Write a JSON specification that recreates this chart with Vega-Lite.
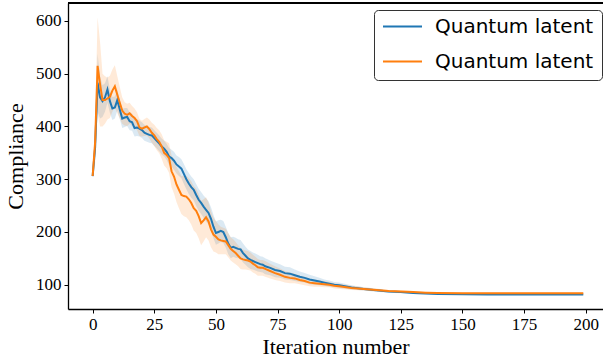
{
  "$schema": "https://vega.github.io/schema/vega-lite/v6.json",
  "autosize": "none",
  "width": 535,
  "height": 306,
  "padding": {"left": 68, "top": 3, "right": 0, "bottom": 53},
  "background": "white",
  "config": {
    "view": {"stroke": null},
    "axis": {"grid": false, "labelFont": "Liberation Serif", "titleFont": "Liberation Serif", "labelFontSize": 17, "titleFontSize": 22, "titleFontWeight": "normal", "labelColor": "black", "titleColor": "black", "domainColor": "black", "tickColor": "black", "domainWidth": 1.3, "tickWidth": 1, "tickSize": 4, "labelPadding": 3},
    "legend": {"labelFont": "DejaVu Sans", "labelFontSize": 20, "labelColor": "black"}
  },
  "datasets": {
    "d": [
      {"s":"A","x":0,"y":306,"lo":304,"hi":308},
      {"s":"A","x":1,"y":360,"lo":340,"hi":380},
      {"s":"A","x":2,"y":483,"lo":428,"hi":538},
      {"s":"A","x":3,"y":455,"lo":415,"hi":495},
      {"s":"A","x":4,"y":448,"lo":418,"hi":478},
      {"s":"A","x":5,"y":455,"lo":428,"hi":482},
      {"s":"A","x":6,"y":470,"lo":445,"hi":495},
      {"s":"A","x":7,"y":448,"lo":426,"hi":470},
      {"s":"A","x":8,"y":434,"lo":412,"hi":456},
      {"s":"A","x":9,"y":436,"lo":415,"hi":457},
      {"s":"A","x":10,"y":450,"lo":430,"hi":470},
      {"s":"A","x":11,"y":432,"lo":414,"hi":450},
      {"s":"A","x":12,"y":415,"lo":397,"hi":433},
      {"s":"A","x":13,"y":417,"lo":399,"hi":435},
      {"s":"A","x":14,"y":418,"lo":401,"hi":435},
      {"s":"A","x":15,"y":410,"lo":393,"hi":427},
      {"s":"A","x":16,"y":408,"lo":392,"hi":424},
      {"s":"A","x":17,"y":397,"lo":381,"hi":413},
      {"s":"A","x":18,"y":398,"lo":382,"hi":414},
      {"s":"A","x":19,"y":396,"lo":381,"hi":411},
      {"s":"A","x":20,"y":393,"lo":378,"hi":408},
      {"s":"A","x":21,"y":388,"lo":373,"hi":403},
      {"s":"A","x":22,"y":386,"lo":371,"hi":401},
      {"s":"A","x":23,"y":384,"lo":369,"hi":399},
      {"s":"A","x":24,"y":383,"lo":368,"hi":398},
      {"s":"A","x":25,"y":378,"lo":363,"hi":393},
      {"s":"A","x":26,"y":373,"lo":358,"hi":388},
      {"s":"A","x":27,"y":368,"lo":353,"hi":383},
      {"s":"A","x":28,"y":362,"lo":347,"hi":377},
      {"s":"A","x":29,"y":358,"lo":343,"hi":373},
      {"s":"A","x":30,"y":352,"lo":337,"hi":367},
      {"s":"A","x":31,"y":343,"lo":327,"hi":359},
      {"s":"A","x":32,"y":340,"lo":324,"hi":356},
      {"s":"A","x":33,"y":335,"lo":318,"hi":352},
      {"s":"A","x":34,"y":328,"lo":311,"hi":345},
      {"s":"A","x":35,"y":324,"lo":306,"hi":342},
      {"s":"A","x":36,"y":320,"lo":302,"hi":338},
      {"s":"A","x":37,"y":310,"lo":291,"hi":329},
      {"s":"A","x":38,"y":300,"lo":281,"hi":319},
      {"s":"A","x":39,"y":292,"lo":272,"hi":312},
      {"s":"A","x":40,"y":285,"lo":265,"hi":305},
      {"s":"A","x":41,"y":280,"lo":260,"hi":300},
      {"s":"A","x":42,"y":270,"lo":249,"hi":291},
      {"s":"A","x":43,"y":261,"lo":240,"hi":282},
      {"s":"A","x":44,"y":255,"lo":234,"hi":276},
      {"s":"A","x":45,"y":248,"lo":227,"hi":269},
      {"s":"A","x":46,"y":242,"lo":220,"hi":264},
      {"s":"A","x":47,"y":236,"lo":214,"hi":258},
      {"s":"A","x":48,"y":225,"lo":203,"hi":247},
      {"s":"A","x":49,"y":210,"lo":188,"hi":232},
      {"s":"A","x":50,"y":198,"lo":176,"hi":220},
      {"s":"A","x":51,"y":200,"lo":178,"hi":222},
      {"s":"A","x":52,"y":202,"lo":181,"hi":223},
      {"s":"A","x":53,"y":200,"lo":179,"hi":221},
      {"s":"A","x":54,"y":190,"lo":170,"hi":210},
      {"s":"A","x":55,"y":178,"lo":158,"hi":198},
      {"s":"A","x":56,"y":170,"lo":150,"hi":190},
      {"s":"A","x":57,"y":172,"lo":153,"hi":191},
      {"s":"A","x":58,"y":170,"lo":151,"hi":189},
      {"s":"A","x":59,"y":168,"lo":150,"hi":186},
      {"s":"A","x":60,"y":167,"lo":149,"hi":185},
      {"s":"A","x":61,"y":160,"lo":142,"hi":178},
      {"s":"A","x":62,"y":155,"lo":138,"hi":172},
      {"s":"A","x":63,"y":150,"lo":133,"hi":167},
      {"s":"A","x":64,"y":147,"lo":130,"hi":164},
      {"s":"A","x":65,"y":145,"lo":129,"hi":161},
      {"s":"A","x":66,"y":143,"lo":127,"hi":159},
      {"s":"A","x":67,"y":141,"lo":125,"hi":157},
      {"s":"A","x":68,"y":139,"lo":124,"hi":154},
      {"s":"A","x":69,"y":138,"lo":123,"hi":153},
      {"s":"A","x":70,"y":135,"lo":120,"hi":150},
      {"s":"A","x":72,"y":132,"lo":118,"hi":146},
      {"s":"A","x":74,"y":128,"lo":114,"hi":142},
      {"s":"A","x":76,"y":126,"lo":113,"hi":139},
      {"s":"A","x":78,"y":122,"lo":110,"hi":134},
      {"s":"A","x":80,"y":121,"lo":109,"hi":133},
      {"s":"A","x":82,"y":118,"lo":107,"hi":129},
      {"s":"A","x":84,"y":115,"lo":105,"hi":125},
      {"s":"A","x":86,"y":113,"lo":104,"hi":122},
      {"s":"A","x":88,"y":110,"lo":101,"hi":119},
      {"s":"A","x":90,"y":108,"lo":100,"hi":116},
      {"s":"A","x":92,"y":106,"lo":99,"hi":113},
      {"s":"A","x":94,"y":104,"lo":98,"hi":110},
      {"s":"A","x":96,"y":102,"lo":96,"hi":108},
      {"s":"A","x":98,"y":100,"lo":95,"hi":105},
      {"s":"A","x":100,"y":99,"lo":94,"hi":104},
      {"s":"A","x":105,"y":95,"lo":91,"hi":99},
      {"s":"A","x":110,"y":92,"lo":89,"hi":95},
      {"s":"A","x":115,"y":89.5,"lo":86.5,"hi":92.5},
      {"s":"A","x":120,"y":87,"lo":85,"hi":89},
      {"s":"A","x":125,"y":86,"lo":84,"hi":88},
      {"s":"A","x":130,"y":84.5,"lo":82.5,"hi":86.5},
      {"s":"A","x":135,"y":83.5,"lo":82,"hi":85},
      {"s":"A","x":140,"y":82.5,"lo":81.5,"hi":83.5},
      {"s":"A","x":150,"y":82,"lo":81,"hi":83},
      {"s":"A","x":160,"y":81.5,"lo":80.5,"hi":82.5},
      {"s":"A","x":170,"y":81.5,"lo":80.5,"hi":82.5},
      {"s":"A","x":180,"y":81.5,"lo":80.5,"hi":82.5},
      {"s":"A","x":190,"y":81.5,"lo":80.5,"hi":82.5},
      {"s":"A","x":199,"y":81.5,"lo":80.5,"hi":82.5},
      {"s":"B","x":0,"y":306,"lo":304,"hi":308},
      {"s":"B","x":1,"y":370,"lo":330,"hi":410},
      {"s":"B","x":2,"y":515,"lo":423,"hi":607},
      {"s":"B","x":3,"y":480,"lo":400,"hi":560},
      {"s":"B","x":4,"y":450,"lo":400,"hi":500},
      {"s":"B","x":5,"y":450,"lo":405,"hi":495},
      {"s":"B","x":6,"y":453,"lo":413,"hi":493},
      {"s":"B","x":7,"y":456,"lo":416,"hi":496},
      {"s":"B","x":8,"y":468,"lo":428,"hi":508},
      {"s":"B","x":9,"y":476,"lo":436,"hi":516},
      {"s":"B","x":10,"y":460,"lo":425,"hi":495},
      {"s":"B","x":11,"y":445,"lo":415,"hi":475},
      {"s":"B","x":12,"y":430,"lo":405,"hi":455},
      {"s":"B","x":13,"y":424,"lo":402,"hi":446},
      {"s":"B","x":14,"y":422,"lo":401,"hi":443},
      {"s":"B","x":15,"y":425,"lo":405,"hi":445},
      {"s":"B","x":16,"y":420,"lo":401,"hi":439},
      {"s":"B","x":17,"y":416,"lo":398,"hi":434},
      {"s":"B","x":18,"y":410,"lo":393,"hi":427},
      {"s":"B","x":19,"y":398,"lo":382,"hi":414},
      {"s":"B","x":20,"y":396,"lo":381,"hi":411},
      {"s":"B","x":21,"y":398,"lo":382,"hi":414},
      {"s":"B","x":22,"y":400,"lo":383,"hi":417},
      {"s":"B","x":23,"y":395,"lo":377,"hi":413},
      {"s":"B","x":24,"y":388,"lo":369,"hi":407},
      {"s":"B","x":25,"y":383,"lo":363,"hi":403},
      {"s":"B","x":26,"y":376,"lo":355,"hi":397},
      {"s":"B","x":27,"y":371,"lo":349,"hi":393},
      {"s":"B","x":28,"y":362,"lo":339,"hi":385},
      {"s":"B","x":29,"y":350,"lo":326,"hi":374},
      {"s":"B","x":30,"y":346,"lo":321,"hi":371},
      {"s":"B","x":31,"y":340,"lo":312,"hi":368},
      {"s":"B","x":32,"y":315,"lo":285,"hi":345},
      {"s":"B","x":33,"y":305,"lo":273,"hi":337},
      {"s":"B","x":34,"y":290,"lo":257,"hi":323},
      {"s":"B","x":35,"y":280,"lo":245,"hi":315},
      {"s":"B","x":36,"y":270,"lo":234,"hi":306},
      {"s":"B","x":37,"y":268,"lo":230,"hi":306},
      {"s":"B","x":38,"y":267,"lo":228,"hi":306},
      {"s":"B","x":39,"y":262,"lo":222,"hi":302},
      {"s":"B","x":40,"y":255,"lo":214,"hi":296},
      {"s":"B","x":41,"y":245,"lo":203,"hi":287},
      {"s":"B","x":42,"y":240,"lo":198,"hi":282},
      {"s":"B","x":43,"y":230,"lo":188,"hi":272},
      {"s":"B","x":44,"y":217,"lo":175,"hi":259},
      {"s":"B","x":45,"y":222,"lo":182,"hi":262},
      {"s":"B","x":46,"y":228,"lo":190,"hi":266},
      {"s":"B","x":47,"y":220,"lo":184,"hi":256},
      {"s":"B","x":48,"y":205,"lo":171,"hi":239},
      {"s":"B","x":49,"y":195,"lo":163,"hi":227},
      {"s":"B","x":50,"y":191,"lo":161,"hi":221},
      {"s":"B","x":51,"y":186,"lo":158,"hi":214},
      {"s":"B","x":52,"y":184,"lo":158,"hi":210},
      {"s":"B","x":53,"y":183,"lo":158,"hi":208},
      {"s":"B","x":54,"y":182,"lo":158,"hi":206},
      {"s":"B","x":55,"y":175,"lo":152,"hi":198},
      {"s":"B","x":56,"y":168,"lo":146,"hi":190},
      {"s":"B","x":57,"y":164,"lo":142,"hi":186},
      {"s":"B","x":58,"y":160,"lo":139,"hi":181},
      {"s":"B","x":59,"y":155,"lo":135,"hi":175},
      {"s":"B","x":60,"y":150,"lo":130,"hi":170},
      {"s":"B","x":61,"y":148,"lo":129,"hi":167},
      {"s":"B","x":62,"y":147,"lo":129,"hi":165},
      {"s":"B","x":63,"y":146,"lo":128,"hi":164},
      {"s":"B","x":64,"y":144,"lo":127,"hi":161},
      {"s":"B","x":65,"y":140,"lo":123,"hi":157},
      {"s":"B","x":66,"y":137,"lo":121,"hi":153},
      {"s":"B","x":67,"y":133,"lo":117,"hi":149},
      {"s":"B","x":68,"y":132,"lo":117,"hi":147},
      {"s":"B","x":69,"y":132,"lo":117,"hi":147},
      {"s":"B","x":70,"y":130,"lo":115,"hi":145},
      {"s":"B","x":72,"y":126,"lo":112,"hi":140},
      {"s":"B","x":74,"y":122,"lo":109,"hi":135},
      {"s":"B","x":76,"y":119,"lo":107,"hi":131},
      {"s":"B","x":78,"y":115,"lo":104,"hi":126},
      {"s":"B","x":80,"y":113,"lo":103,"hi":123},
      {"s":"B","x":82,"y":112,"lo":103,"hi":121},
      {"s":"B","x":84,"y":109,"lo":101,"hi":117},
      {"s":"B","x":86,"y":107,"lo":99,"hi":115},
      {"s":"B","x":88,"y":104,"lo":97,"hi":111},
      {"s":"B","x":90,"y":103,"lo":96,"hi":110},
      {"s":"B","x":92,"y":102,"lo":96,"hi":108},
      {"s":"B","x":94,"y":101,"lo":95,"hi":107},
      {"s":"B","x":96,"y":100,"lo":95,"hi":105},
      {"s":"B","x":98,"y":98,"lo":93,"hi":103},
      {"s":"B","x":100,"y":97,"lo":92,"hi":102},
      {"s":"B","x":105,"y":94,"lo":90,"hi":98},
      {"s":"B","x":110,"y":92,"lo":89,"hi":95},
      {"s":"B","x":115,"y":90,"lo":87,"hi":93},
      {"s":"B","x":120,"y":88,"lo":86,"hi":90},
      {"s":"B","x":125,"y":87,"lo":85,"hi":89},
      {"s":"B","x":130,"y":86,"lo":84,"hi":88},
      {"s":"B","x":135,"y":85,"lo":83.5,"hi":86.5},
      {"s":"B","x":140,"y":84.5,"lo":83,"hi":86},
      {"s":"B","x":150,"y":84,"lo":82.5,"hi":85.5},
      {"s":"B","x":160,"y":84,"lo":82.5,"hi":85.5},
      {"s":"B","x":170,"y":84,"lo":82.5,"hi":85.5},
      {"s":"B","x":180,"y":84,"lo":82.5,"hi":85.5},
      {"s":"B","x":190,"y":84,"lo":82.5,"hi":85.5},
      {"s":"B","x":199,"y":84,"lo":82.5,"hi":85.5}
    ]
  },
  "data": {"name": "d"},
  "layer": [
    {
      "mark": {"type": "area", "fillOpacity": 0.16},
      "encoding": {
        "x": {"field": "x", "type": "quantitative", "scale": {"domain": [-10, 207], "nice": false, "zero": false},
          "axis": {"values": [0, 25, 50, 75, 100, 125, 150, 175, 200], "title": "Iteration number", "titleBaseline": "alphabetic", "titleY": 44, "labelFont": "Liberation Serif", "titleFont": "Liberation Serif"}},
        "y": {"field": "lo", "type": "quantitative", "scale": {"domain": [54, 634], "nice": false, "zero": false},
          "axis": {"values": [100, 200, 300, 400, 500, 600], "title": "Compliance", "titleBaseline": "alphabetic", "titleX": -46, "labelFont": "Liberation Serif", "titleFont": "Liberation Serif"}},
        "y2": {"field": "hi"},
        "color": {"field": "s", "type": "nominal", "scale": {"domain": ["A", "B"], "range": ["#1f77b4", "#ff7f0e"]},
          "legend": {"title": null, "orient": "none", "legendX": 306, "legendY": 7, "labelExpr": "'Quantum latent'",
            "symbolType": "stroke", "symbolSize": 1521, "symbolStrokeWidth": 2, "symbolOpacity": 1, "labelOffset": 12,
            "clipHeight": 17, "rowPadding": 14, "padding": 8, "strokeColor": "#333333", "fillColor": "white", "cornerRadius": 4}}
      }
    },
    {
      "mark": {"type": "line", "strokeWidth": 2},
      "encoding": {
        "x": {"field": "x", "type": "quantitative"},
        "y": {"field": "y", "type": "quantitative"},
        "color": {"field": "s", "type": "nominal"}
      }
    },
    {
      "mark": {"type": "rule", "color": "black", "strokeWidth": 1.3},
      "encoding": {"y": {"datum": 634}}
    }
  ]
}
